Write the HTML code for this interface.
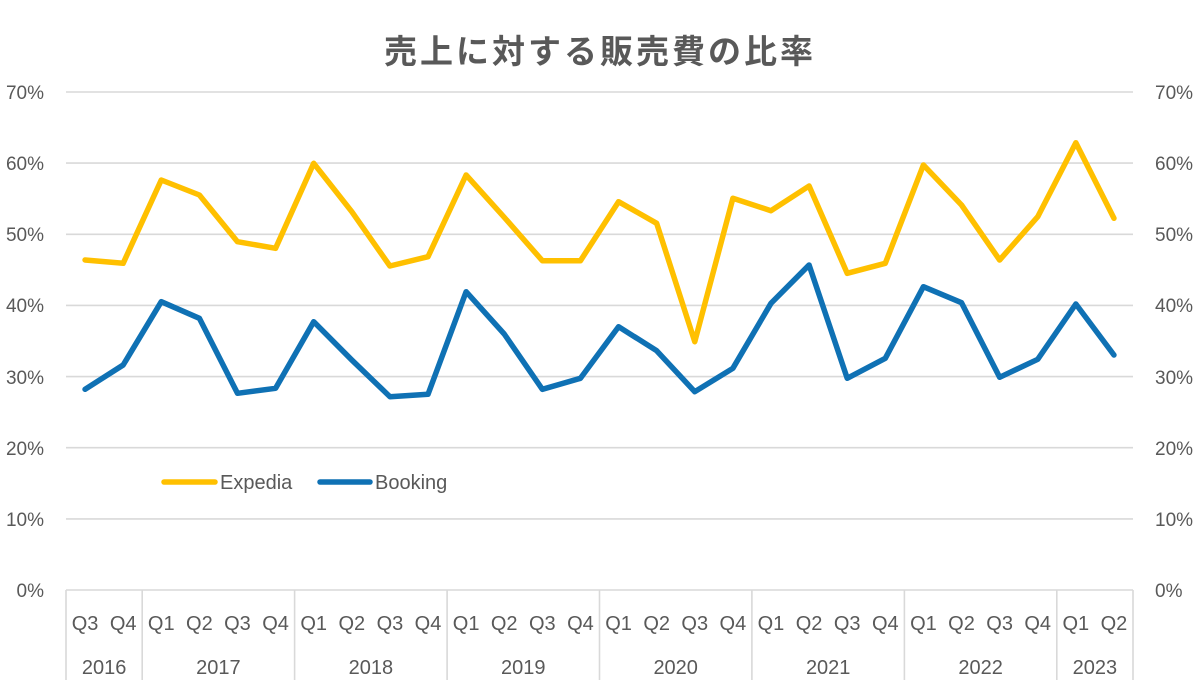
<!DOCTYPE html>
<html>
<head>
<meta charset="utf-8">
<style>
  html,body{margin:0;padding:0;background:#fff;}
  svg{display:block;}
  text{font-family:"Liberation Sans","Noto Sans CJK JP",sans-serif;fill:#595959;}
</style>
</head>
<body>
<svg width="1200" height="700" viewBox="0 0 1200 700" xmlns="http://www.w3.org/2000/svg">
  <rect width="1200" height="700" fill="#fff"/>
  <!-- title -->
  <text x="600" y="63" text-anchor="middle" style="font-family:'Noto Sans CJK JP','Noto Sans CJK SC',sans-serif;font-weight:bold;font-size:33px;letter-spacing:3px;">売上に対する販売費の比率</text>

  <!-- gridlines -->
  <g stroke="#d9d9d9" stroke-width="1.6">
    <line x1="66" y1="92" x2="1133" y2="92"/>
    <line x1="66" y1="163.1" x2="1133" y2="163.1"/>
    <line x1="66" y1="234.3" x2="1133" y2="234.3"/>
    <line x1="66" y1="305.4" x2="1133" y2="305.4"/>
    <line x1="66" y1="376.6" x2="1133" y2="376.6"/>
    <line x1="66" y1="447.7" x2="1133" y2="447.7"/>
    <line x1="66" y1="518.9" x2="1133" y2="518.9"/>
    <line x1="66" y1="590" x2="1133" y2="590"/>
    <!-- year boundary ticks -->
    <line x1="66" y1="590" x2="66" y2="680"/>
    <line x1="142.2" y1="590" x2="142.2" y2="680"/>
    <line x1="294.6" y1="590" x2="294.6" y2="680"/>
    <line x1="447.1" y1="590" x2="447.1" y2="680"/>
    <line x1="599.5" y1="590" x2="599.5" y2="680"/>
    <line x1="751.9" y1="590" x2="751.9" y2="680"/>
    <line x1="904.4" y1="590" x2="904.4" y2="680"/>
    <line x1="1056.8" y1="590" x2="1056.8" y2="680"/>
    <line x1="1133" y1="590" x2="1133" y2="680"/>
  </g>

  <!-- left y labels -->
  <g font-size="19" text-anchor="end">
    <text x="44" y="99">70%</text>
    <text x="44" y="170">60%</text>
    <text x="44" y="241">50%</text>
    <text x="44" y="312">40%</text>
    <text x="44" y="384">30%</text>
    <text x="44" y="455">20%</text>
    <text x="44" y="526">10%</text>
    <text x="44" y="597">0%</text>
  </g>
  <!-- right y labels -->
  <g font-size="19" text-anchor="start">
    <text x="1155" y="99">70%</text>
    <text x="1155" y="170">60%</text>
    <text x="1155" y="241">50%</text>
    <text x="1155" y="312">40%</text>
    <text x="1155" y="384">30%</text>
    <text x="1155" y="455">20%</text>
    <text x="1155" y="526">10%</text>
    <text x="1155" y="597">0%</text>
  </g>

  <!-- quarter labels -->
  <g font-size="20" text-anchor="middle">
    <text x="85.05" y="630">Q3</text>
    <text x="123.16" y="630">Q4</text>
    <text x="161.27" y="630">Q1</text>
    <text x="199.37" y="630">Q2</text>
    <text x="237.48" y="630">Q3</text>
    <text x="275.59" y="630">Q4</text>
    <text x="313.70" y="630">Q1</text>
    <text x="351.80" y="630">Q2</text>
    <text x="389.91" y="630">Q3</text>
    <text x="428.02" y="630">Q4</text>
    <text x="466.12" y="630">Q1</text>
    <text x="504.23" y="630">Q2</text>
    <text x="542.34" y="630">Q3</text>
    <text x="580.45" y="630">Q4</text>
    <text x="618.55" y="630">Q1</text>
    <text x="656.66" y="630">Q2</text>
    <text x="694.77" y="630">Q3</text>
    <text x="732.88" y="630">Q4</text>
    <text x="770.98" y="630">Q1</text>
    <text x="809.09" y="630">Q2</text>
    <text x="847.20" y="630">Q3</text>
    <text x="885.30" y="630">Q4</text>
    <text x="923.41" y="630">Q1</text>
    <text x="961.52" y="630">Q2</text>
    <text x="999.63" y="630">Q3</text>
    <text x="1037.73" y="630">Q4</text>
    <text x="1075.84" y="630">Q1</text>
    <text x="1113.95" y="630">Q2</text>
  </g>
  <!-- year labels -->
  <g font-size="20" text-anchor="middle">
    <text x="104.1" y="674">2016</text>
    <text x="218.4" y="674">2017</text>
    <text x="370.9" y="674">2018</text>
    <text x="523.3" y="674">2019</text>
    <text x="675.7" y="674">2020</text>
    <text x="828.2" y="674">2021</text>
    <text x="980.6" y="674">2022</text>
    <text x="1094.9" y="674">2023</text>
  </g>

  <!-- Expedia -->
  <polyline fill="none" stroke="#FFC000" stroke-width="5.5" stroke-linejoin="round" stroke-linecap="round"
    points="85.05,260 123.16,263.3 161.27,180 199.37,195 237.48,241.7 275.59,248.3 313.70,163.3 351.80,211.7 389.91,266 428.02,256.7 466.12,175 504.23,217.3 542.34,260.7 580.45,260.7 618.55,201.7 656.66,223.3 694.77,341.7 732.88,198.3 770.98,210.7 809.09,186 847.20,273.3 885.30,263.3 923.41,165 961.52,205 999.63,260 1037.73,216.7 1075.84,142.7 1113.95,218.3"/>
  <!-- Booking -->
  <polyline fill="none" stroke="#0F71B4" stroke-width="5.5" stroke-linejoin="round" stroke-linecap="round"
    points="85.05,389.3 123.16,365 161.27,301.7 199.37,318.3 237.48,393.3 275.59,388.3 313.70,321.7 351.80,360 389.91,396.7 428.02,394.3 466.12,291.7 504.23,334 542.34,389.3 580.45,378.3 618.55,326.7 656.66,350.7 694.77,391.7 732.88,368.3 770.98,303.3 809.09,265 847.20,378.3 885.30,358.3 923.41,286.7 961.52,302.7 999.63,377.3 1037.73,359.3 1075.84,304 1113.95,355"/>

  <!-- legend -->
  <line x1="164" y1="482" x2="215" y2="482" stroke="#FFC000" stroke-width="5.5" stroke-linecap="round"/>
  <text x="220" y="489" font-size="20">Expedia</text>
  <line x1="320" y1="482" x2="370" y2="482" stroke="#0F71B4" stroke-width="5.5" stroke-linecap="round"/>
  <text x="375" y="489" font-size="20">Booking</text>
</svg>
</body>
</html>
